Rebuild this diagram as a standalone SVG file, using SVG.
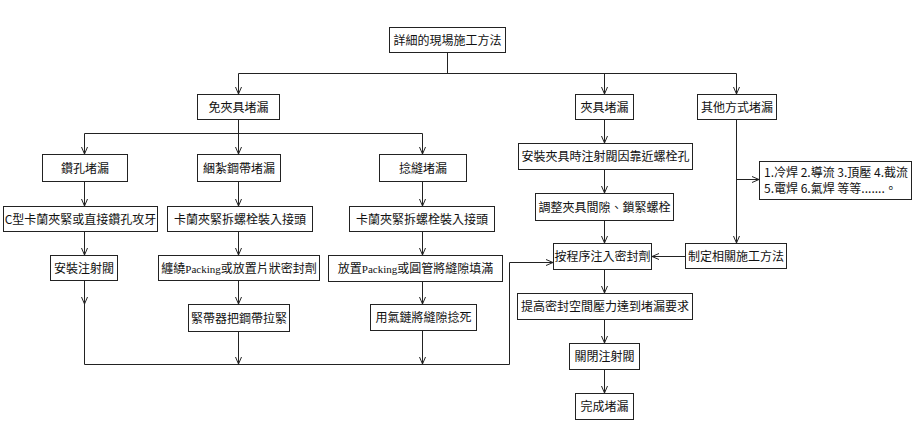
<svg xmlns="http://www.w3.org/2000/svg" width="914" height="446" viewBox="0 0 914 446">
<style>
.b{fill:#fff;stroke:#222;stroke-width:1}
.t{font-family:"Noto Sans CJK TC","Noto Sans CJK SC",sans-serif;font-size:12px;fill:#111;text-anchor:middle}
.n{font-family:"Noto Sans CJK TC","Noto Sans CJK SC",sans-serif;font-size:12px;fill:#111}
.s{font-family:"Liberation Serif",serif;font-size:11px}
.c{fill:none;stroke:#222;stroke-width:1}
</style>
<defs>
<marker id="a" markerWidth="8" markerHeight="8" refX="7" refY="4" orient="auto" markerUnits="userSpaceOnUse">
<polyline points="0,1 7,4 0,7" fill="none" stroke="#222" stroke-width="1"/>
</marker>
</defs>
<rect width="914" height="446" fill="#fff"/>
<g id="connectors">
<path class="c" d="M447.5,52 V73.5 M238.5,73.5 H736.5"/>
<path class="c" d="M238.5,73.5 V94" marker-end="url(#a)"/>
<path class="c" d="M604.5,73.5 V94" marker-end="url(#a)"/>
<path class="c" d="M736.5,73.5 V94" marker-end="url(#a)"/>
<path class="c" d="M238.5,119 V133.5 M84.5,133.5 H422.5"/>
<path class="c" d="M84.5,133.5 V154" marker-end="url(#a)"/>
<path class="c" d="M238.5,133.5 V154" marker-end="url(#a)"/>
<path class="c" d="M422.5,133.5 V154" marker-end="url(#a)"/>
<path class="c" d="M84.5,181 V206" marker-end="url(#a)"/>
<path class="c" d="M84.5,231 V255" marker-end="url(#a)"/>
<path class="c" d="M84.5,280 V304" marker-end="url(#a)"/>
<path class="c" d="M84.5,304 V364.5 H509.5 V262.5"/>
<path class="c" d="M509.5,262.5 H553" marker-end="url(#a)"/>
<path class="c" d="M238.5,181 V206" marker-end="url(#a)"/>
<path class="c" d="M238.5,231 V255" marker-end="url(#a)"/>
<path class="c" d="M238.5,280 V304" marker-end="url(#a)"/>
<path class="c" d="M238.5,331 V364" marker-end="url(#a)"/>
<path class="c" d="M422.5,181 V206" marker-end="url(#a)"/>
<path class="c" d="M422.5,231 V255" marker-end="url(#a)"/>
<path class="c" d="M422.5,281 V304" marker-end="url(#a)"/>
<path class="c" d="M422.5,330 V364" marker-end="url(#a)"/>
<path class="c" d="M604.5,119 V143" marker-end="url(#a)"/>
<path class="c" d="M604.5,169 V193" marker-end="url(#a)"/>
<path class="c" d="M604.5,220 V243" marker-end="url(#a)"/>
<path class="c" d="M604.5,269 V293" marker-end="url(#a)"/>
<path class="c" d="M604.5,319 V343" marker-end="url(#a)"/>
<path class="c" d="M604.5,369 V393" marker-end="url(#a)"/>
<path class="c" d="M736.5,119 V243" marker-end="url(#a)"/>
<path class="c" d="M736.5,179.5 H759" marker-end="url(#a)"/>
<path class="c" d="M685,256.5 H652" marker-end="url(#a)"/>
</g>
<g id="root"><rect class="b" x="389.5" y="27.5" width="116" height="25"/><text class="t" x="447.5" y="44.5">詳細的現場施工方法</text></g>
<g id="n1"><rect class="b" x="197.5" y="94.5" width="82" height="25"/><text class="t" x="238.5" y="111.5">免夾具堵漏</text></g>
<g id="n2"><rect class="b" x="575.5" y="94.5" width="58" height="25"/><text class="t" x="604.5" y="111.5">夾具堵漏</text></g>
<g id="n3"><rect class="b" x="697.5" y="94.5" width="79" height="25"/><text class="t" x="737" y="111.5">其他方式堵漏</text></g>
<g id="n4"><rect class="b" x="42.5" y="154.5" width="85" height="27"/><text class="t" x="85" y="172.5">鑽孔堵漏</text></g>
<g id="n5"><rect class="b" x="197.5" y="154.5" width="83" height="27"/><text class="t" x="239" y="172.5">綑紮鋼帶堵漏</text></g>
<g id="n6"><rect class="b" x="379.5" y="154.5" width="87" height="27"/><text class="t" x="423" y="172.5">捻縫堵漏</text></g>
<g id="n7"><rect class="b" x="3.5" y="206.5" width="154" height="25"/><text class="t" x="80.5" y="223.5">C型卡蘭夾緊或直接鑽孔攻牙</text></g>
<g id="n8"><rect class="b" x="167.5" y="206.5" width="145" height="25"/><text class="t" x="240" y="223.5">卡蘭夾緊拆螺栓裝入接頭</text></g>
<g id="n9"><rect class="b" x="349.5" y="206.5" width="145" height="25"/><text class="t" x="422" y="223.5">卡蘭夾緊拆螺栓裝入接頭</text></g>
<g id="n10"><rect class="b" x="50.5" y="255.5" width="67" height="25"/><text class="t" x="84" y="272.5">安裝注射閥</text></g>
<g id="n11"><rect class="b" x="158.5" y="255.5" width="161" height="25"/><text class="t" x="239" y="272.5">纏繞<tspan class="s">Packing</tspan>或放置片狀密封劑</text></g>
<g id="n12"><rect class="b" x="328.5" y="255.5" width="174" height="26"/><text class="t" x="415.5" y="272.5">放置<tspan class="s">Packing</tspan>或圓管將縫隙填滿</text></g>
<g id="n13"><rect class="b" x="188.5" y="304.5" width="101" height="27"/><text class="t" x="239" y="322.5">緊帶器把鋼帶拉緊</text></g>
<g id="n14"><rect class="b" x="370.5" y="304.5" width="106" height="26"/><text class="t" x="423.5" y="322">用氣鏈將縫隙捻死</text></g>
<g id="n15"><rect class="b" x="518.5" y="143.5" width="174" height="26"/><text class="t" x="605.5" y="161">安裝夾具時注射閥因靠近螺栓孔</text></g>
<g id="n16"><rect class="b" x="535.5" y="193.5" width="138" height="27"/><text class="t" x="604.5" y="211.5">調整夾具間隙、鎖緊螺栓</text></g>
<g id="n17"><rect class="b" x="553.5" y="243.5" width="98" height="26"/><text class="t" x="602.5" y="261">按程序注入密封劑</text></g>
<g id="n18"><rect class="b" x="685.5" y="243.5" width="101" height="25"/><text class="t" x="736" y="260.5">制定相關施工方法</text></g>
<g id="n19"><rect class="b" x="759.5" y="161.5" width="152" height="38"/><text class="n" x="764" y="177">1.冷焊 2.導流 3.頂壓 4.截流</text><text class="n" x="764" y="193">5.電焊 6.氣焊 等等.......。</text></g>
<g id="n20"><rect class="b" x="517.5" y="293.5" width="175" height="26"/><text class="t" x="605" y="311">提高密封空間壓力達到堵漏要求</text></g>
<g id="n21"><rect class="b" x="569.5" y="343.5" width="70" height="26"/><text class="t" x="604.5" y="361">關閉注射閥</text></g>
<g id="n22"><rect class="b" x="575.5" y="393.5" width="58" height="26"/><text class="t" x="604.5" y="411">完成堵漏</text></g>
</svg>
